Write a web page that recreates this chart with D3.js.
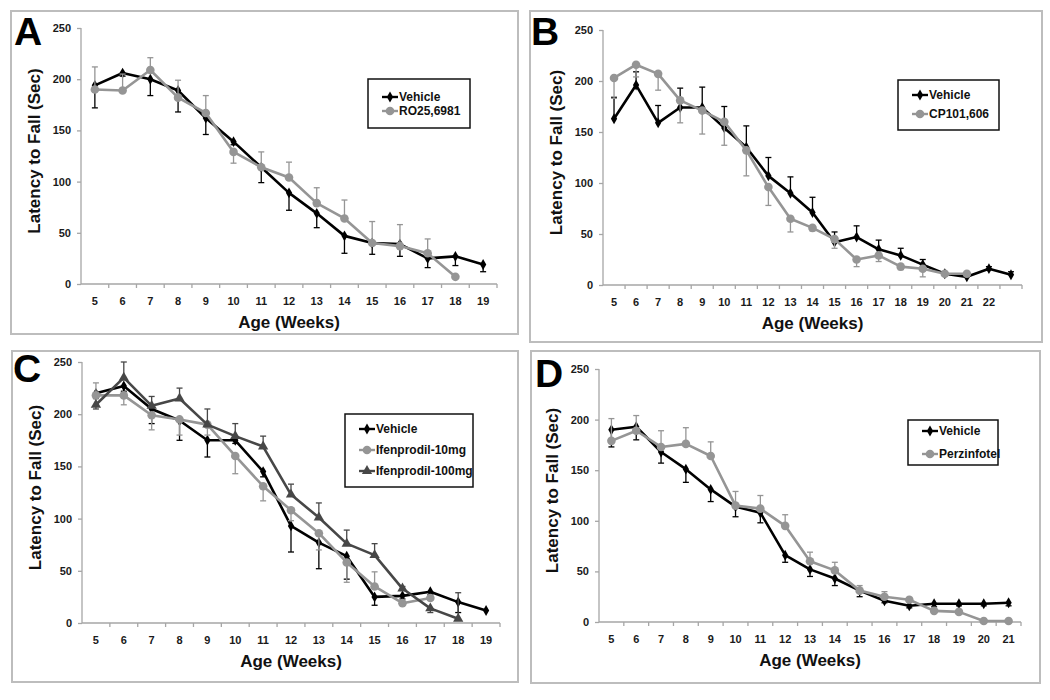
<!DOCTYPE html>
<html>
<head>
<meta charset="utf-8">
<script src="https://cdn.jsdelivr.net/npm/d3@7/dist/d3.min.js"></script>
<style>
  body { margin: 0; background: #fff; }
  svg { display: block; font-family: "Liberation Sans", Arial, sans-serif; }
  .frame { fill: none; stroke: #bdbdbd; stroke-width: 2; }
  .axis path, .axis line, .xtick { stroke: #a6a6a6; stroke-width: 1.3; }
  .axis text { font-size: 11px; font-weight: bold; fill: #1a1a1a; }
  .title { font-size: 17px; font-weight: bold; fill: #111; }
  .letter { font-size: 39px; font-weight: bold; fill: #000; }
  .legend rect { fill: #fff; stroke: #111; stroke-width: 1.5; }
  .legend text { font-size: 12px; font-weight: bold; fill: #111; }
  .line { fill: none; stroke-width: 2.6; stroke-linejoin: round; }
  .err { stroke-width: 1.3; fill: none; }
</style>
</head>
<body>
<svg id="chart" width="1050" height="700"></svg>
<script>
// ---- data ----
var weeksA = [5, 6, 7, 8, 9, 10, 11, 12, 13, 14, 15, 16, 17, 18, 19];
var weeksB = [5, 6, 7, 8, 9, 10, 11, 12, 13, 14, 15, 16, 17, 18, 19, 20, 21, 22, 23];
var labelsB = ["5", "6", "7", "8", "9", "10", "11", "12", "13", "14", "15", "16", "17", "18", "19", "20", "21", "22", ""];
var weeksC = [5, 6, 7, 8, 9, 10, 11, 12, 13, 14, 15, 16, 17, 18, 19];
var weeksD = [5, 6, 7, 8, 9, 10, 11, 12, 13, 14, 15, 16, 17, 18, 19, 20, 21];
var yTicks = [0, 50, 100, 150, 200, 250];

// error values are signed: + drawn upward, - drawn downward (one-sided bars)
var vehicleA = [194, 206, 200, 189, 162, 139, 114, 89, 69, 47, 40, 39, 25, 27, 19];
var vehicleErrA = [-22, -3, -16, -21, -16, -3, -15, -17, -14, -17, -11, -12, -9, -9, -7];
var ro25A = [190, 189, 209, 182, 167, 129, 114, 104, 79, 64, 40, 37, 30, 7];
var ro25ErrA = [22, 16, 12, 17, 17, -11, 15, 15, 15, 18, 21, 21, 14, 0];

var vehicleB = [163, 196, 159, 174, 174, 154, 135, 107, 90, 71, 42, 47, 35, 29, 20, 11, 8, 16, 10];
var vehicleErrB = [21, 13, 17, 19, 20, 21, 21, 18, 16, 15, 10, 11, 9, 7, 5, 2, 2, 2, 3];
var cp101B = [203, 216, 207, 181, 171, 160, 132, 96, 65, 56, 45, 25, 29, 18, 16, 11, 11];
var cp101ErrB = [-20, -12, -16, -22, -23, -23, -25, -18, -13, -3, -9, -7, -6, -3, -8, -2, -2];

var vehicleC = [220, 227, 205, 194, 175, 175, 145, 93, 77, 64, 25, 26, 30, 20, 12];
var vehicleErrC = [-5, -5, -14, -19, -16, -3, -5, -25, -25, -22, -8, -3, -3, -10, 0];
var ifen10C = [218, 218, 199, 195, 190, 160, 131, 108, 86, 58, 35, 19, 24];
var ifen10ErrC = [12, -9, -14, -15, -10, -17, -14, -10, -16, -19, 14, -2, -2];
var ifen100C = [209, 235, 208, 215, 190, 179, 169, 123, 101, 76, 65, 33, 14, 4];
var ifen100ErrC = [-4, 15, 9, 10, 15, 12, 10, 10, 14, 13, 11, 2, -4, 25];

var vehicleD = [190, 193, 168, 151, 131, 114, 108, 66, 52, 43, 31, 21, 16, 18, 18, 18, 19];
var vehicleErrD = [-17, -13, -11, -13, -12, -10, -10, -7, -7, -7, -6, -2, -2, -3, -2, -2, -3];
var perzD = [179, 189, 173, 176, 164, 115, 112, 95, 60, 51, 31, 25, 22, 11, 10, 1, 1];
var perzErrD = [22, 15, 16, 16, 14, 14, 13, 11, 9, 8, 5, 5, 2, 0, 0, 0, 0];

// ---- styles per series kind ----
var STYLE = {
  vehicle: { color: "#000000", symbol: d3.symbolDiamond, size: 34 },
  drug: { color: "#959595", symbol: d3.symbolCircle, size: 58 },
  dark: { color: "#474747", symbol: d3.symbolTriangle, size: 46 }
};

var panels = [
  {
    letter: "A", frame: [11, 11, 507, 323], letterPos: [14, 45],
    plot: { left: 81, right: 497, top: 28, bottom: 284 },
    weeks: weeksA, labels: null,
    series: [
      { name: "Vehicle", kind: "vehicle", values: vehicleA, err: vehicleErrA },
      { name: "RO25,6981", kind: "drug", values: ro25A, err: ro25ErrA }
    ],
    legend: { x: 368, y: 79, w: 102, h: 49, row0: 18, step: 14 }
  },
  {
    letter: "B", frame: [530, 11, 512, 331], letterPos: [531, 45],
    plot: { left: 603, right: 1022, top: 30, bottom: 285 },
    weeks: weeksB, labels: labelsB,
    series: [
      { name: "Vehicle", kind: "vehicle", values: vehicleB, err: vehicleErrB },
      { name: "CP101,606", kind: "drug", values: cp101B, err: cp101ErrB }
    ],
    legend: { x: 898, y: 80, w: 101, h: 50, row0: 15, step: 19 }
  },
  {
    letter: "C", frame: [12, 351, 506, 331], letterPos: [13, 382],
    plot: { left: 82, right: 500, top: 362, bottom: 623 },
    weeks: weeksC, labels: null,
    series: [
      { name: "Vehicle", kind: "vehicle", values: vehicleC, err: vehicleErrC },
      { name: "Ifenprodil-10mg", kind: "drug", values: ifen10C, err: ifen10ErrC },
      { name: "Ifenprodil-100mg", kind: "dark", values: ifen100C, err: ifen100ErrC }
    ],
    legend: { x: 345, y: 414, w: 128, h: 73, row0: 15, step: 21 }
  },
  {
    letter: "D", frame: [531, 351, 509, 332], letterPos: [535, 387],
    plot: { left: 599, right: 1021, top: 369, bottom: 622 },
    weeks: weeksD, labels: null,
    series: [
      { name: "Vehicle", kind: "vehicle", values: vehicleD, err: vehicleErrD },
      { name: "Perzinfotel", kind: "drug", values: perzD, err: perzErrD }
    ],
    legend: { x: 908, y: 420, w: 90, h: 45, row0: 11, step: 23 }
  }
];

var svg = d3.select("#chart");

var renderPanel = function(p) {
  var g = svg.append("g").attr("class", "panel");

  g.append("rect")
    .attr("class", "frame")
    .attr("x", p.frame[0]).attr("y", p.frame[1])
    .attr("width", p.frame[2]).attr("height", p.frame[3]);

  g.append("text")
    .attr("class", "letter")
    .attr("x", p.letterPos[0]).attr("y", p.letterPos[1])
    .text(p.letter);

  var xScale = d3.scaleBand()
    .domain(p.weeks)
    .range([p.plot.left, p.plot.right])
    .padding(0);

  var yScale = d3.scaleLinear()
    .domain([0, 250])
    .range([p.plot.bottom, p.plot.top]);

  var labelFor = function(d, i) {
    return p.labels ? p.labels[i] : String(d);
  };

  // axes
  var xAxis = d3.axisBottom(xScale).tickSize(0).tickPadding(13).tickFormat(labelFor);
  g.append("g")
    .attr("class", "x axis")
    .attr("transform", "translate(0," + p.plot.bottom + ")")
    .call(xAxis)
    .call(a => a.select(".domain").attr("d", "M" + p.plot.left + ",0H" + p.plot.right));

  // tick marks sit on the category boundaries
  var bounds = p.weeks.map(w => xScale(w)).concat([xScale.range()[1]]);
  g.append("g")
    .selectAll("line")
    .data(bounds.slice(1))
    .enter()
    .append("line")
    .attr("class", "xtick")
    .attr("x1", d => d).attr("x2", d => d)
    .attr("y1", p.plot.bottom).attr("y2", p.plot.bottom + 4);

  var yAxis = d3.axisLeft(yScale).tickValues(yTicks).tickSize(4).tickPadding(6);
  g.append("g")
    .attr("class", "y axis")
    .attr("transform", "translate(" + p.plot.left + ",0)")
    .call(yAxis)
    .call(a => a.select(".domain").attr("d", "M0," + p.plot.top + "V" + p.plot.bottom));

  // titles
  var midX = (p.plot.left + p.plot.right) / 2;
  var midY = (p.plot.top + p.plot.bottom) / 2 - 5;
  g.append("text")
    .attr("class", "title")
    .attr("text-anchor", "middle")
    .attr("x", midX).attr("y", p.plot.bottom + 44)
    .text("Age (Weeks)");
  g.append("text")
    .attr("class", "title")
    .attr("text-anchor", "middle")
    .attr("transform", "translate(" + (p.plot.left - 41) + "," + midY + ") rotate(-90)")
    .text("Latency to Fall (Sec)");

  // series
  var cx = i => xScale(p.weeks[i]) + xScale.bandwidth() / 2;
  var line = d3.line()
    .x((d, i) => cx(i))
    .y(d => yScale(d));

  p.series.forEach(function(s) {
    var st = STYLE[s.kind];
    var sg = g.append("g").attr("class", "series");

    var errs = sg.append("g")
      .selectAll("g")
      .data(s.values.map((v, i) => ({ i: i, v: v, e: s.err[i] })).filter(d => d.e !== 0))
      .enter()
      .append("g");
    errs.append("line")
      .attr("class", "err")
      .attr("stroke", st.color)
      .attr("x1", d => cx(d.i)).attr("x2", d => cx(d.i))
      .attr("y1", d => yScale(d.v)).attr("y2", d => yScale(d.v + d.e));
    errs.append("line")
      .attr("class", "err")
      .attr("stroke", st.color)
      .attr("x1", d => cx(d.i) - 3).attr("x2", d => cx(d.i) + 3)
      .attr("y1", d => yScale(d.v + d.e)).attr("y2", d => yScale(d.v + d.e));

    sg.append("path")
      .attr("class", "line")
      .attr("stroke", st.color)
      .attr("d", line(s.values));

    sg.append("g")
      .selectAll("path")
      .data(s.values)
      .enter()
      .append("path")
      .attr("fill", st.color)
      .attr("transform", (d, i) => "translate(" + cx(i) + "," + yScale(d) + ")")
      .attr("d", d3.symbol().type(st.symbol).size(st.size));
  });

  // legend
  var L = p.legend;
  var lg = g.append("g").attr("class", "legend");
  lg.append("rect").attr("x", L.x).attr("y", L.y).attr("width", L.w).attr("height", L.h);
  var items = lg.selectAll("g.item")
    .data(p.series)
    .enter()
    .append("g")
    .attr("class", "item")
    .attr("transform", (d, i) => "translate(" + L.x + "," + (L.y + L.row0 + i * L.step) + ")");
  items.append("line")
    .attr("x1", 14).attr("x2", 30)
    .attr("stroke", d => STYLE[d.kind].color)
    .attr("stroke-width", 2.4);
  items.append("path")
    .attr("transform", "translate(22,0)")
    .attr("fill", d => STYLE[d.kind].color)
    .attr("d", d => d3.symbol().type(STYLE[d.kind].symbol).size(STYLE[d.kind].size)());
  items.append("text")
    .attr("x", 31)
    .attr("dy", "0.36em")
    .text(d => d.name);
};

panels.forEach(renderPanel);
</script>
</body>
</html>
